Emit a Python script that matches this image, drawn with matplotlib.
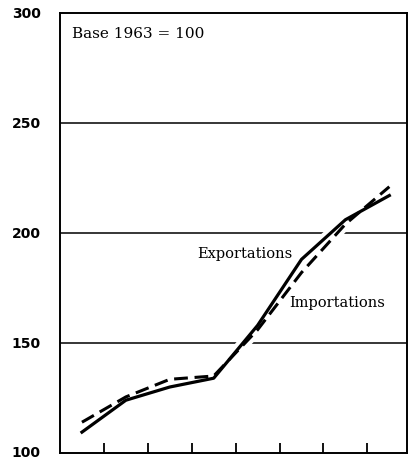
import numpy as np
import matplotlib
matplotlib.use('Agg')
import matplotlib.pyplot as plt
import matplotlib.transforms as mtransforms

# indices base 1963 = 100, one point per year
years = [1963, 1964, 1965, 1966, 1967, 1968, 1969, 1970]
exportations = [109.5, 124, 130, 134, 158, 188, 206, 217]
importations = [114, 125.5, 133.5, 135, 156, 182, 204, 221]
yticks = [100, 150, 200, 250, 300]

fig = plt.figure(figsize=(4.11, 4.59), dpi=100)
ax = fig.add_axes([0.146, 0.013, 0.844, 0.959])

x = np.arange(len(years))

for y in [150, 200, 250]:
    ax.axhline(y, color='black', lw=1.1, zorder=1)

# white halo so the grid lines break where the curves cross
for serie in (importations, exportations):
    ax.plot(x, serie, color='white', lw=8, solid_capstyle='butt', zorder=2)
ax.plot(x, importations, color='black', lw=2.2, dashes=(4.5, 2.2),
        solid_capstyle='butt', zorder=3)
ax.plot(x, exportations, color='black', lw=2.3, zorder=4)

ax.set_xlim(-0.5, 7.4)
ax.set_ylim(100, 300)
ax.set_yticks(yticks)
ax.set_yticklabels([str(v) for v in yticks], fontsize=10, fontweight='bold',
                   family='DejaVu Sans')
ax.tick_params(axis='y', length=0, pad=14)
# nudge the bottom label up a little so it stays inside the figure
lab = ax.get_yticklabels()[0]
lab.set_transform(lab.get_transform() +
                  mtransforms.ScaledTranslation(0, 2 / 100, fig.dpi_scale_trans))
ax.set_xticks(x[:-1] + 0.5)
ax.set_xticklabels([])
ax.tick_params(axis='x', direction='in', length=7, width=1.3)

for s in ax.spines.values():
    s.set_linewidth(1.4)

ax.text(0.035, 0.968, 'Base 1963 = 100', transform=ax.transAxes,
        fontsize=11, family='DejaVu Serif', va='top', ha='left')
ax.text(3.7, 190.5, 'Exportations', fontsize=10.5, family='DejaVu Serif',
        va='center', ha='center',
        bbox=dict(facecolor='white', edgecolor='none', pad=1))
ax.text(5.82, 168, 'Importations', fontsize=10.5, family='DejaVu Serif',
        va='center', ha='center',
        bbox=dict(facecolor='white', edgecolor='none', pad=1))

fig.savefig('out.png', dpi=100)
